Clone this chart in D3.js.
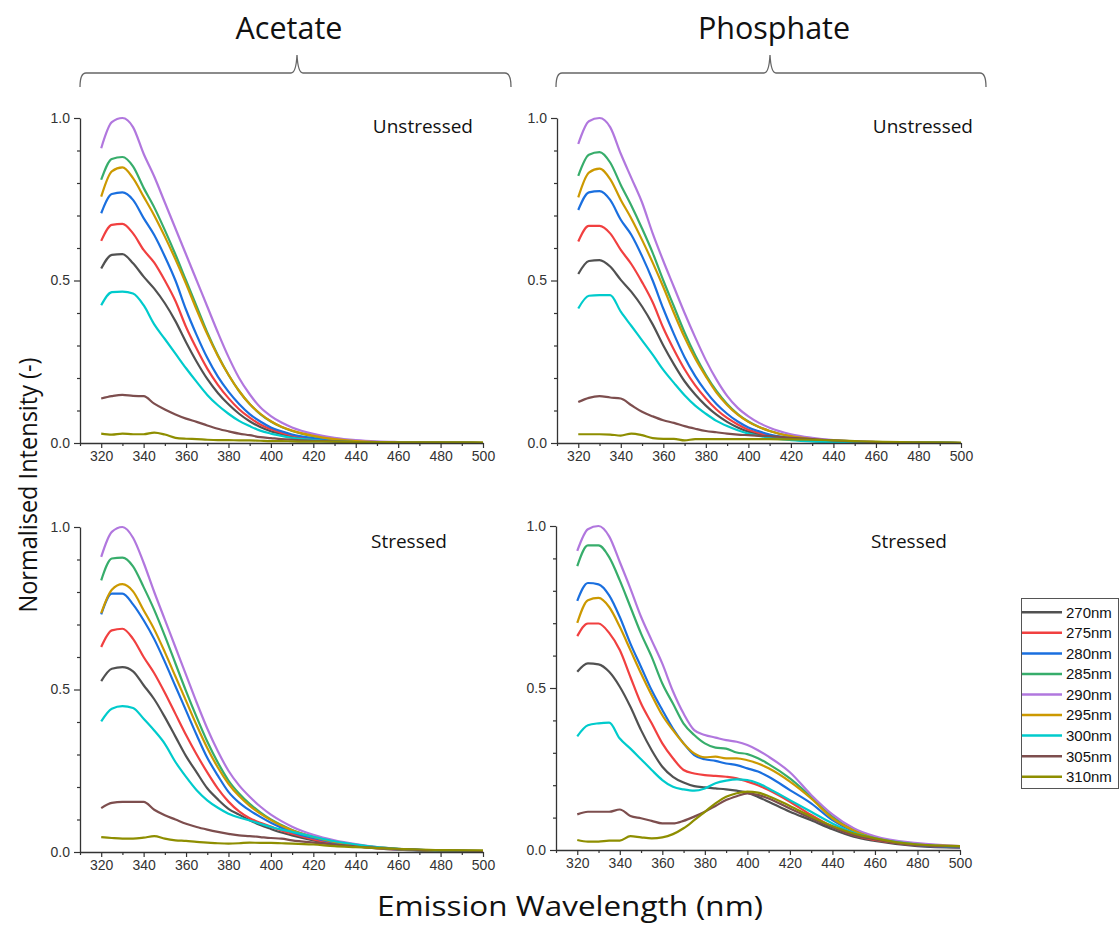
<!DOCTYPE html>
<html><head><meta charset="utf-8">
<script src="https://cdn.jsdelivr.net/npm/d3@7"></script>
<style>body{margin:0;background:#fff}svg{display:block}</style>
</head><body><svg id="c" width="1120" height="928"></svg>
<script>
const wavelengths = [320,325,330,335,340,345,350,355,360,365,370,375,380,385,390,395,400,405,410,420,430,440,450,460,480,500];
const seriesNames = ["270nm","275nm","280nm","285nm","290nm","295nm","300nm","305nm","310nm"];
const seriesColors = ["#515151","#F14040","#1A6FDF","#37AD6B","#B177DE","#CC9900","#00CBCC","#7D4E4E","#8E8E00"];
const xTicksMajor = [320,340,360,380,400,420,440,460,480,500];
const xTicksMinor = [310,330,350,370,390,410,430,450,470,490];
const yTicksMajor = [0,0.5,1.0];
const yTicksMinor = [0.1,0.2,0.3,0.4,0.6,0.7,0.8,0.9];
const groupTitles = ["Acetate","Phosphate"];
const conditionLabels = ["Unstressed","Unstressed","Stressed","Stressed"];

const acetateUnstressed = [
 [.537,.579,.581,.553,.512,.475,.43,.375,.31,.25,.197,.154,.119,.09,.067,.049,.036,.027,.02,.011,.006,.003,.002,.001,.001,0],
 [.622,.671,.674,.645,.594,.555,.50,.437,.357,.29,.229,.179,.138,.104,.078,.057,.042,.031,.023,.013,.007,.003,.002,.001,.001,0],
 [.707,.766,.771,.748,.692,.64,.574,.50,.41,.332,.262,.204,.158,.12,.089,.066,.048,.036,.026,.015,.008,.004,.002,.001,.001,0],
 [.81,.874,.88,.851,.785,.725,.655,.58,.50,.42,.34,.27,.21,.16,.12,.089,.066,.049,.037,.021,.012,.006,.003,.002,.001,0],
 [.907,.987,1.0,.972,.89,.82,.74,.66,.58,.50,.42,.34,.265,.20,.15,.11,.083,.063,.048,.028,.016,.009,.005,.003,.001,0],
 [.758,.836,.848,.815,.758,.70,.635,.565,.49,.41,.335,.268,.21,.16,.12,.09,.067,.05,.038,.022,.012,.006,.003,.002,.001,0],
 [.424,.464,.466,.46,.424,.365,.32,.275,.23,.188,.148,.116,.09,.068,.052,.038,.029,.022,.016,.009,.005,.003,.002,.001,.001,0],
 [.137,.144,.148,.145,.144,.121,.103,.088,.075,.065,.054,.044,.036,.029,.024,.018,.015,.012,.01,.007,.005,.003,.002,.001,.001,0],
 [.029,.026,.029,.027,.027,.032,.026,.016,.013,.012,.01,.009,.009,.008,.008,.007,.006,.006,.005,.004,.004,.003,.003,.002,.002,.002]
];
const phosphateUnstressed = [
 [.52,.56,.563,.543,.502,.465,.42,.365,.30,.242,.19,.149,.115,.087,.065,.048,.035,.026,.019,.011,.006,.003,.002,.001,.001,0],
 [.62,.668,.668,.645,.594,.55,.495,.433,.354,.287,.227,.177,.137,.103,.077,.057,.041,.031,.023,.013,.007,.003,.002,.001,.001,0],
 [.717,.771,.775,.748,.687,.64,.575,.50,.413,.335,.264,.206,.159,.12,.09,.066,.048,.036,.026,.015,.008,.004,.002,.001,.001,0],
 [.822,.887,.895,.863,.794,.73,.66,.585,.50,.42,.34,.27,.21,.16,.12,.089,.066,.049,.037,.021,.012,.006,.003,.002,.001,0],
 [.92,.99,1.0,.972,.89,.815,.74,.645,.56,.48,.40,.325,.255,.195,.145,.108,.082,.062,.047,.027,.016,.009,.005,.003,.001,0],
 [.756,.832,.844,.812,.748,.69,.625,.555,.48,.40,.325,.26,.205,.155,.117,.087,.065,.049,.037,.021,.012,.006,.003,.002,.001,0],
 [.414,.453,.455,.455,.404,.36,.316,.272,.225,.185,.147,.115,.09,.068,.052,.039,.029,.022,.016,.009,.005,.003,.002,.001,.001,0],
 [.126,.139,.144,.14,.137,.116,.096,.082,.07,.062,.052,.044,.037,.033,.029,.026,.024,.022,.021,.016,.012,.008,.005,.003,.001,0],
 [.027,.027,.027,.026,.023,.029,.024,.015,.013,.013,.008,.012,.012,.012,.012,.012,.012,.012,.012,.011,.01,.008,.006,.004,.002,.001]
];
const acetateStressed = [
 [.526,.564,.569,.556,.513,.47,.415,.355,.295,.245,.196,.162,.133,.115,.098,.083,.071,.06,.051,.036,.025,.017,.011,.007,.003,.002],
 [.631,.682,.687,.656,.60,.55,.49,.425,.36,.30,.245,.195,.155,.125,.104,.09,.078,.066,.056,.039,.027,.018,.012,.008,.004,.002],
 [.731,.795,.795,.762,.713,.655,.585,.51,.435,.36,.29,.235,.185,.152,.128,.108,.09,.075,.062,.043,.029,.02,.013,.008,.004,.002],
 [.836,.903,.906,.879,.815,.745,.665,.58,.495,.415,.34,.275,.22,.18,.148,.122,.10,.083,.068,.047,.032,.021,.014,.009,.004,.002],
 [.908,.985,1.0,.967,.89,.80,.715,.63,.545,.46,.38,.31,.25,.205,.17,.14,.115,.095,.078,.053,.036,.024,.015,.01,.005,.003],
 [.735,.807,.824,.802,.744,.685,.615,.54,.465,.39,.32,.26,.21,.172,.142,.118,.098,.081,.067,.046,.031,.021,.014,.009,.004,.002],
 [.402,.441,.449,.443,.41,.374,.333,.277,.231,.19,.159,.136,.118,.106,.097,.087,.077,.069,.062,.047,.033,.023,.015,.01,.005,.003],
 [.135,.151,.154,.154,.154,.13,.113,.10,.087,.077,.069,.062,.056,.051,.049,.046,.043,.041,.036,.029,.023,.017,.013,.009,.005,.003],
 [.046,.043,.041,.041,.044,.049,.041,.036,.034,.031,.029,.027,.026,.027,.029,.028,.028,.027,.026,.023,.018,.015,.012,.01,.006,.005]
];
const phosphateStressed = [
 [.55,.576,.573,.55,.504,.442,.37,.308,.257,.226,.208,.197,.193,.19,.187,.183,.177,.164,.149,.118,.092,.064,.041,.028,.012,.007],
 [.66,.699,.699,.67,.617,.534,.452,.391,.329,.283,.247,.236,.231,.229,.226,.221,.211,.20,.185,.149,.108,.072,.046,.031,.015,.008],
 [.769,.824,.82,.786,.719,.637,.565,.493,.432,.375,.329,.293,.28,.275,.267,.262,.252,.242,.226,.185,.144,.092,.057,.036,.015,.008],
 [.876,.94,.94,.904,.832,.75,.668,.596,.514,.452,.39,.355,.329,.316,.313,.301,.296,.283,.265,.221,.164,.103,.062,.038,.017,.01],
 [.923,.99,1.0,.968,.889,.807,.72,.647,.575,.49,.421,.37,.355,.347,.339,.334,.324,.308,.288,.24,.17,.11,.067,.042,.021,.012],
 [.701,.771,.778,.75,.689,.617,.545,.478,.416,.37,.329,.298,.286,.288,.283,.283,.277,.267,.252,.211,.159,.098,.06,.036,.017,.012],
 [.351,.385,.391,.393,.344,.313,.28,.247,.216,.195,.187,.183,.19,.206,.214,.218,.216,.206,.19,.154,.118,.082,.053,.036,.017,.01],
 [.11,.118,.118,.118,.125,.105,.098,.09,.082,.082,.09,.103,.118,.136,.154,.166,.175,.17,.159,.128,.098,.07,.046,.033,.015,.01],
 [.031,.026,.026,.029,.029,.043,.039,.036,.039,.049,.067,.092,.118,.144,.164,.175,.18,.177,.166,.136,.103,.074,.051,.036,.017,.012]
];

const svg = d3.select("#c");
const tickFont = "'Liberation Sans', Arial, sans-serif";
const textFont = "'Open Sans', 'Noto Sans', sans-serif";

const panels = [
  {data: acetateUnstressed,   x0: 80,  x1: 483, yT: 118, yB: 443, lx: 473, ly: 133},
  {data: phosphateUnstressed, x0: 557, x1: 961, yT: 118, yB: 443, lx: 973, ly: 133},
  {data: acetateStressed,     x0: 80,  x1: 483, yT: 527, yB: 852, lx: 447, ly: 548},
  {data: phosphateStressed,   x0: 556, x1: 960, yT: 526, yB: 850, lx: 947, ly: 548}
];

panels.forEach((p, pi) => {
  const x = d3.scaleLinear().domain([310, 500]).range([p.x0, p.x1]);
  const y = d3.scaleLinear().domain([0, 1]).range([p.yB, p.yT]);
  const g = svg.append("g");

  const line = d3.line().x((d, i) => x(wavelengths[i])).y(d => y(d)).curve(d3.curveMonotoneX);
  p.data.forEach((s, si) => {
    g.append("path").attr("d", line(s)).attr("fill", "none")
      .attr("stroke", seriesColors[si]).attr("stroke-width", 2.2)
      .attr("stroke-linejoin", "round");
  });

  const xa = g.append("g").attr("transform", `translate(0,${p.yB})`)
    .call(d3.axisBottom(x).tickValues(xTicksMajor).tickSize(5).tickSizeOuter(0).tickFormat(d3.format("d")));
  g.append("g").attr("transform", `translate(0,${p.yB})`)
    .call(d3.axisBottom(x).tickValues(xTicksMinor).tickSize(3).tickSizeOuter(0).tickFormat(""))
    .select(".domain").remove();
  const ya = g.append("g").attr("transform", `translate(${p.x0},0)`)
    .call(d3.axisLeft(y).tickValues(yTicksMajor).tickSize(6).tickSizeOuter(0).tickFormat(d3.format(".1f")));
  g.append("g").attr("transform", `translate(${p.x0},0)`)
    .call(d3.axisLeft(y).tickValues(yTicksMinor).tickSize(3).tickSizeOuter(0).tickFormat(""))
    .select(".domain").remove();

  g.selectAll(".domain").attr("stroke", "#333").attr("stroke-width", 1.3);
  g.selectAll(".tick line").attr("stroke", "#333").attr("stroke-width", 1.2);
  xa.selectAll("text").attr("font-family", tickFont).attr("font-size", 14).attr("fill", "#333").attr("dy", "0.9em").attr("y", 5);
  ya.selectAll("text").attr("font-family", tickFont).attr("font-size", 14).attr("fill", "#333").attr("x", -10);

  svg.append("text").attr("x", p.lx).attr("y", p.ly).attr("text-anchor", "end")
    .attr("font-family", textFont).attr("font-size", 19).attr("fill", "#111")
    .text(conditionLabels[pi]);
});

const groups = [
  {cx: 289, left: 80, right: 511, cusp: 297},
  {cx: 774, left: 556, right: 986, cusp: 770}
];
groups.forEach((gr, i) => {
  svg.append("text").attr("x", gr.cx).attr("y", 39).attr("text-anchor", "middle")
    .attr("font-family", textFont).attr("font-size", 30.5).attr("fill", "#111").text(groupTitles[i]);
  const path = d3.path();
  path.moveTo(gr.left, 87);
  path.quadraticCurveTo(gr.left, 73, gr.left + 6, 73);
  path.lineTo(gr.cusp - 6, 73);
  path.quadraticCurveTo(gr.cusp - 1, 73, gr.cusp, 55);
  path.quadraticCurveTo(gr.cusp + 1, 73, gr.cusp + 6, 73);
  path.lineTo(gr.right - 6, 73);
  path.quadraticCurveTo(gr.right, 73, gr.right, 87);
  svg.append("path").attr("d", path.toString()).attr("fill", "none")
    .attr("stroke", "#666").attr("stroke-width", 1.3);
});

svg.append("text").attr("transform", "translate(37,485) rotate(-90)").attr("text-anchor", "middle")
  .attr("font-family", textFont).attr("font-size", 26).attr("fill", "#111")
  .attr("textLength", 255).attr("lengthAdjust", "spacingAndGlyphs")
  .text("Normalised Intensity (-)");
svg.append("text").attr("x", 570).attr("y", 916).attr("text-anchor", "middle")
  .attr("font-family", textFont).attr("font-size", 27).attr("fill", "#111")
  .attr("textLength", 386).attr("lengthAdjust", "spacingAndGlyphs")
  .text("Emission Wavelength (nm)");

const lg = svg.append("g");
lg.append("rect").attr("x", 1021.5).attr("y", 598.5).attr("width", 97).attr("height", 190)
  .attr("fill", "#fff").attr("stroke", "#555").attr("stroke-width", 1);
seriesNames.forEach((n, i) => {
  const yy = 612.3 + i * 20.55;
  lg.append("line").attr("x1", 1022).attr("x2", 1062).attr("y1", yy).attr("y2", yy)
    .attr("stroke", seriesColors[i]).attr("stroke-width", 2.5);
  lg.append("text").attr("x", 1066).attr("y", yy).attr("dy", "0.36em")
    .attr("font-family", tickFont).attr("font-size", 15).attr("fill", "#111").text(n);
});
</script></body></html>
